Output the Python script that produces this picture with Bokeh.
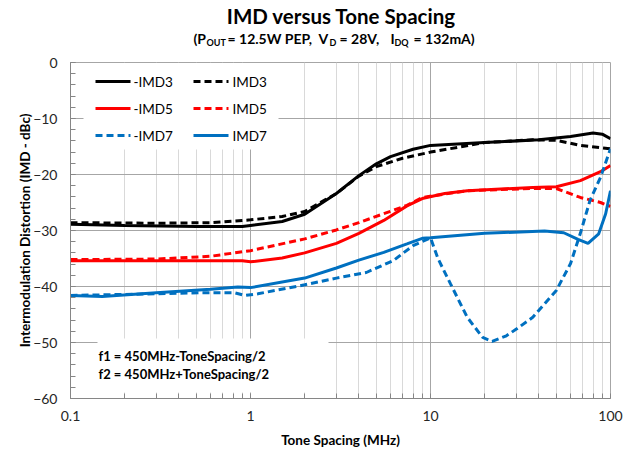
from bokeh.plotting import figure
from bokeh.layouts import column
from bokeh.models import (Label, FixedTicker, CustomJSTickFormatter, Range1d)
from bokeh.core.properties import value
from bokeh.embed import file_html
from bokeh.resources import INLINE

# ---------------- data ----------------
imd3_neg_x = [0.1, 0.2, 0.5, 0.9, 1.0, 1.5, 2, 3, 4, 5, 6, 8, 10, 20, 40, 60, 80, 90, 100]
imd3_neg_y = [-28.9, -29.1, -29.3, -29.3, -29.1, -28.4, -27.1, -23.4, -20.2, -18.1, -16.8, -15.5,
              -14.8, -14.3, -13.8, -13.2, -12.6, -12.8, -13.6]

imd3_pos_x = [0.1, 0.3, 0.6, 1, 1.5, 2, 3, 4, 5, 7, 10, 20, 37, 50, 68, 100]
imd3_pos_y = [-28.6, -28.7, -28.6, -28.1, -27.5, -26.6, -23.4, -20.3, -18.6, -17.1, -16.0,
              -14.3, -13.8, -13.9, -14.8, -15.4]

imd5_neg_x = [0.1, 0.5, 0.9, 1.0, 1.5, 2, 3, 4, 5.5, 7.4, 9, 12, 16, 37, 50, 68, 88, 100]
imd5_neg_y = [-35.4, -35.4, -35.4, -35.6, -34.9, -34.0, -32.3, -30.5, -28.2, -25.6, -24.3,
              -23.4, -22.9, -22.3, -22.2, -21.1, -19.5, -18.4]

imd5_pos_x = [0.1, 0.3, 0.6, 1, 2, 3, 4, 5.5, 7.4, 9, 16, 37, 50, 68, 88, 100]
imd5_pos_y = [-35.2, -35.1, -34.6, -33.6, -31.5, -29.9, -28.6, -27.0, -25.5, -24.1, -22.9,
              -22.5, -22.5, -24.1, -25.0, -25.7]

imd7_neg_x = [0.1, 0.3, 0.53, 0.81, 0.93, 1.1, 2, 3, 4.4, 6.2, 8, 10, 11, 12.9, 16, 19.5, 22,
              26.4, 30, 37, 50, 60, 68, 77, 88, 100]
imd7_neg_y = [-41.6, -41.3, -41.1, -41.1, -41.6, -41.3, -39.7, -38.5, -37.5, -35.4, -32.7,
              -31.3, -35.0, -39.5, -45.5, -49.1, -49.8, -48.8, -47.6, -45.5, -40.7, -35.9,
              -30.5, -24.6, -20.5, -15.4]

imd7_pos_x = [0.1, 0.15, 0.3, 0.6, 0.85, 1, 2, 3, 4, 5.5, 7.4, 9, 10, 20, 43, 55, 66, 75, 86,
              94, 100]
imd7_pos_y = [-41.6, -41.8, -41.1, -40.5, -40.1, -40.2, -38.5, -36.7, -35.3, -33.9, -32.4,
              -31.4, -31.3, -30.5, -30.1, -30.4, -31.6, -32.3, -30.6, -27.0, -22.9]

x_ticks = [0.1, 1, 10, 100]
y_ticks = [-60, -50, -40, -30, -20, -10, 0]

series_labels = ["-IMD3", "IMD3", "-IMD5", "IMD5", "-IMD7", "IMD7"]

BLACK = "#000000"
RED = "#FF0000"
BLUE = "#0070C0"
FONT = "Lato"
DASH = "7 4"

# ---------------- header (title + subtitle) ----------------
# its frame is aligned with the main frame (page x 70..610), page y 0..52
HEAD_H = 52
head = figure(frame_width=540, frame_height=HEAD_H, x_range=Range1d(70, 610),
              y_range=Range1d(HEAD_H, 0), x_axis_location=None, y_axis_location=None,
              output_backend="svg", toolbar_location=None, min_border=0,
              min_border_left=70, min_border_right=20,
              background_fill_color="white", border_fill_color="white")
head.outline_line_color = None
head.grid.visible = False
head.text(x=[341], y=[15], text=["IMD versus Tone Spacing"], text_font=value(FONT),
          text_font_size="20.5px", text_font_style="bold", text_color="#000000",
          text_align="center", text_baseline="middle")

segments = [("(P", 193, False), ("OUT", 206, True), ("= 12.5W PEP,", 227, False),
            ("V", 318, False), ("D", 329, True), ("= 28V,", 339, False), ("I", 390, False),
            ("DQ", 394, True), ("= 132mA)", 413, False)]
for sub in (False, True):
    seg = [s for s in segments if s[2] == sub]
    head.text(x=[s[1] for s in seg], y=[42 if sub else 38] * len(seg), text=[s[0] for s in seg],
              text_font=value(FONT), text_font_size="9px" if sub else "14px",
              text_font_style="bold", text_color="#000000", text_align="left",
              text_baseline="middle")

# ---------------- main plot ----------------
TOP = 62  # page y of the frame top
p = figure(x_axis_type="log", x_range=Range1d(0.1, 100), y_range=Range1d(-60, 0),
           frame_width=540, frame_height=336, output_backend="svg", toolbar_location=None,
           min_border_left=70, min_border_right=20, min_border_top=TOP - HEAD_H,
           min_border_bottom=56, background_fill_color="white", border_fill_color="white")
p.outline_line_color = "#A6A6A6"

# page px -> data, used only to place decorations (legend, note box)
def px_x(px):
    return 10 ** ((px - 70) / 180.0 - 1)

def px_y(py):
    return -(py - TOP) / 5.6

minor_x = [m * d for d in (0.1, 1, 10) for m in range(2, 10)]
p.xaxis.ticker = FixedTicker(ticks=x_ticks, minor_ticks=minor_x)
p.yaxis.ticker = FixedTicker(ticks=y_ticks, minor_ticks=list(range(-60, 1, 2)))
p.xaxis.formatter = CustomJSTickFormatter(code="return String(tick)")

for ax in (p.xaxis[0], p.yaxis[0]):
    ax.axis_line_color = "#868686"
    ax.major_tick_line_color = "#868686"
    ax.minor_tick_line_color = "#868686"
    ax.major_tick_in = 5
    ax.major_tick_out = 0
    ax.minor_tick_in = 5
    ax.minor_tick_out = 0
    ax.major_label_text_font = FONT
    ax.major_label_text_font_size = "14px"
    ax.major_label_text_color = "#262626"
    ax.axis_label_text_font = FONT
    ax.axis_label_text_font_size = "13.5px"
    ax.axis_label_text_font_style = "bold"
    ax.axis_label_text_color = "#000000"

p.xaxis.axis_label = "Tone Spacing (MHz)"
p.yaxis.axis_label = "Intermodulation Distortion (IMD - dBc)"
p.xaxis.major_label_standoff = 12
p.xaxis.axis_label_standoff = 8
p.yaxis.major_label_standoff = 13
p.yaxis.axis_label_standoff = -3

p.xgrid.grid_line_color = "#A6A6A6"
p.xgrid.minor_grid_line_color = "#D9D9D9"
p.ygrid.grid_line_color = "#A6A6A6"

# white backgrounds of the legend and of the note (cover the grid)
p.quad(left=[px_x(83), px_x(97)], right=[px_x(278), px_x(328)],
       bottom=[px_y(149), px_y(392)], top=[px_y(62.5), px_y(338)],
       fill_color="white", line_color=None)

styles = [(BLACK, None), (BLACK, DASH), (RED, None), (RED, DASH), (BLUE, DASH), (BLUE, None)]
series = [(imd3_neg_x, imd3_neg_y), (imd3_pos_x, imd3_pos_y), (imd5_neg_x, imd5_neg_y),
          (imd5_pos_x, imd5_pos_y), (imd7_neg_x, imd7_neg_y), (imd7_pos_x, imd7_pos_y)]

for (xs, ys), (col, dash) in zip(series, styles):
    kw = dict(line_dash=dash) if dash else {}
    p.line(xs, ys, line_color=col, line_width=3, **kw)

# legend (two columns, three rows)
rows_py = [81, 108, 135]
cols = [(95, 130, 133), (193, 228, 232)]
for i, (lab, (col, dash)) in enumerate(zip(series_labels, styles)):
    r, c = i // 2, i % 2
    g0, g1, tx = cols[c]
    kw = dict(line_dash=dash) if dash else {}
    p.line([px_x(g0), px_x(g1)], [px_y(rows_py[r])] * 2, line_color=col, line_width=3, **kw)
    p.add_layout(Label(x=px_x(tx), y=px_y(rows_py[r]), text=lab, text_font=FONT,
                       text_font_size="13.5px", text_color="#000000",
                       text_align="left", text_baseline="middle"))

# note
for txt, py in (("f1 = 450MHz-ToneSpacing/2", 355), ("f2 = 450MHz+ToneSpacing/2", 373)):
    p.add_layout(Label(x=px_x(98), y=px_y(py), text=txt, text_font=FONT,
                       text_font_size="13px", text_font_style="bold", text_color="#000000",
                       text_align="left", text_baseline="middle"))

layout = column(head, p, spacing=0)
open("out.html", "w").write(file_html(layout, INLINE))
